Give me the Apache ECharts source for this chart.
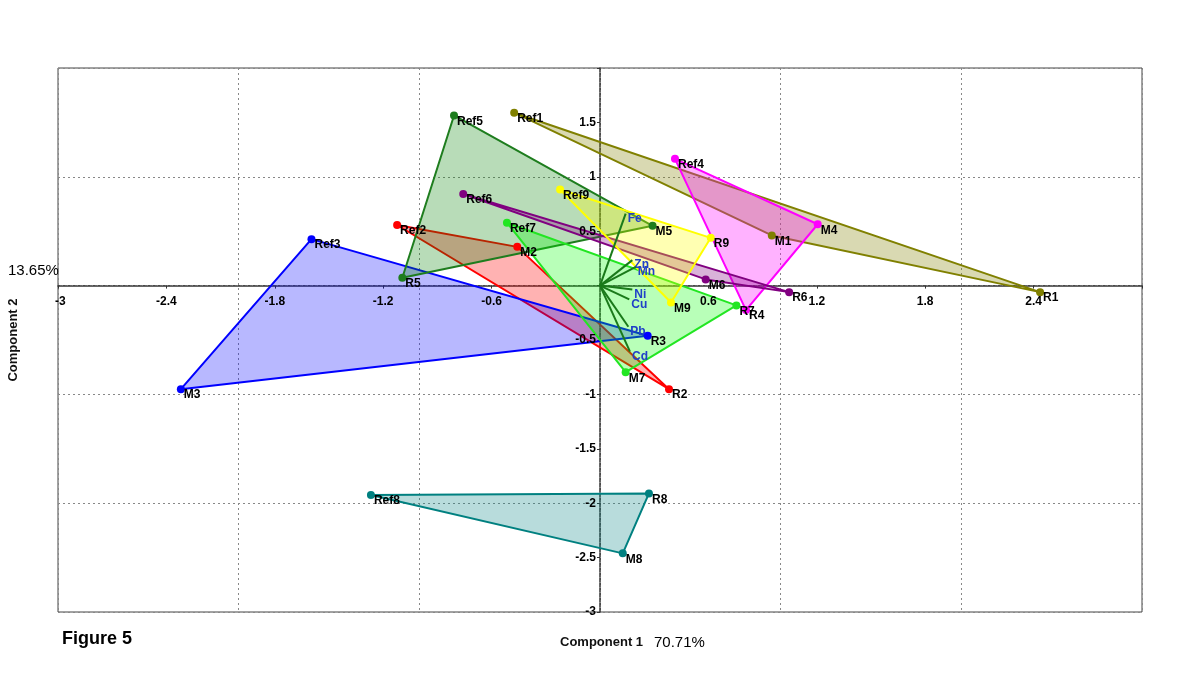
<!DOCTYPE html>
<html><head><meta charset="utf-8">
<script src="https://cdn.jsdelivr.net/npm/echarts@6/dist/echarts.min.js"></script>
<style>html,body{margin:0;padding:0;background:#fff}#c{width:1200px;height:680px}</style>
</head><body><div id="c"></div>
<script>
// ---- data ----
const sampleLabels = ['Ref1','M1','R1','Ref2','M2','R2','Ref3','M3','R3','Ref4','M4','R4','Ref5','M5','R5','Ref6','M6','R6','Ref7','M7','R7','Ref8','M8','R8','Ref9','M9','R9'];
const comp1 = [-0.475,0.951,2.436, -1.123,-0.458,0.382, -1.597,-2.320,0.264, 0.415,1.205,0.808, -0.808,0.291,-1.094, -0.757,0.585,1.047, -0.515,0.142,0.755, -1.268,0.126,0.271, -0.221,0.393,0.613];
const comp2 = [1.589,0.461,-0.060, 0.557,0.356,-0.952, 0.427,-0.952,-0.461, 1.165,0.564,-0.225, 1.564,0.550,0.072, 0.842,0.057,-0.060, 0.578,-0.796,-0.182, -1.925,-2.461,-1.910, 0.883,-0.156,0.439];
const groupColors = ['#808000','#ff0000','#0000ff','#ff00ff','#1e7d1e','#800080','#22e622','#008080','#ffff00'];
const groupFills = ['rgba(128,128,0,0.3)','rgba(255,0,0,0.3)','rgba(0,0,255,0.28)','rgba(255,0,255,0.3)','rgba(0,128,0,0.28)','rgba(128,0,128,0.3)','rgba(0,255,0,0.28)','rgba(0,128,128,0.28)','rgba(255,255,0,0.3)'];
const loadingLabels = ['Fe','Zn','Mn','Ni','Cu','Pb','Cd'];
const loadingX = [0.142,0.179,0.198,0.179,0.162,0.157,0.166];
const loadingY = [0.662,0.234,0.172,-0.035,-0.127,-0.378,-0.607];
const xTickLabels = ['-3','-2.4','-1.8','-1.2','-0.6','0.6','1.2','1.8','2.4'];
const yTickLabels = ['1.5','1','0.5','-0.5','-1','-1.5','-2','-2.5','-3'];
const xMin = -3, xMax = 3, xTick = 0.6;
const yMin = -3, yMax = 2, yTick = 0.5;
const gridStep = 1;
const xLabelText = '70.71%', yLabelText = '13.65%';

// ---- build ----
const polyData = [];
for (let g = 0; g < 9; g++) {
  const i = g * 3;
  polyData.push([comp1[i], comp2[i], comp1[i+1], comp2[i+1], comp1[i+2], comp2[i+2], g]);
}
const pointData = sampleLabels.map((n, i) => ({
  name: n, value: [comp1[i], comp2[i]],
  itemStyle: { color: groupColors[Math.floor(i / 3)], opacity: 1 }
}));
const loadData = loadingLabels.map((n, i) => [0, 0, loadingX[i], loadingY[i], i]);
const tickData = xTickLabels.map(t => [parseFloat(t), 0, 0]).concat(yTickLabels.map(t => [0, parseFloat(t), 1]));
const FONT = '"Liberation Sans", Arial, sans-serif';

const chart = echarts.init(document.getElementById('c'));
chart.setOption({
  animation: false,
  backgroundColor: '#fff',
  grid: { left: 58, right: 58, top: 68, bottom: 68, show: true, borderColor: '#444', borderWidth: 1, backgroundColor: 'transparent' },
  xAxis: [
    { type: 'value', min: xMin, max: xMax, interval: xTick,
      axisLine: { onZero: true, lineStyle: { color: '#333', width: 1.5, type: [4, 1] } },
      axisTick: { show: true, length: 3, lineStyle: { color: '#333' } },
      axisLabel: { show: false },
      splitLine: { show: false } },
    { type: 'value', min: xMin, max: xMax, interval: gridStep, position: 'top',
      axisLine: { show: false }, axisTick: { show: false }, axisLabel: { show: false },
      splitLine: { show: true, lineStyle: { color: '#888', type: [2, 3], width: 1 } } }
  ],
  yAxis: [
    { type: 'value', min: yMin, max: yMax, interval: yTick,
      axisLine: { onZero: true, lineStyle: { color: '#333', width: 1.5, type: [4, 1] } },
      axisTick: { show: true, length: 3, lineStyle: { color: '#333' } },
      axisLabel: { show: false },
      splitLine: { show: false } },
    { type: 'value', min: yMin, max: yMax, interval: gridStep, position: 'right',
      axisLine: { show: false }, axisTick: { show: false }, axisLabel: { show: false },
      splitLine: { show: true, lineStyle: { color: '#888', type: [2, 3], width: 1 } } }
  ],
  series: [
    { type: 'custom', xAxisIndex: 0, yAxisIndex: 0, z: 2,
      data: polyData,
      encode: { x: [0, 2, 4], y: [1, 3, 5] },
      renderItem: (params, api) => {
        const g = api.value(6);
        const pts = [api.coord([api.value(0), api.value(1)]), api.coord([api.value(2), api.value(3)]), api.coord([api.value(4), api.value(5)])];
        return { type: 'polygon', shape: { points: pts },
          style: { fill: groupFills[g], stroke: groupColors[g], lineWidth: 2, lineJoin: 'round' } };
      } },
    { type: 'custom', xAxisIndex: 0, yAxisIndex: 0, z: 3,
      data: loadData,
      encode: { x: [0, 2], y: [1, 3] },
      renderItem: (params, api) => {
        const i = api.value(4);
        const p0 = api.coord([api.value(0), api.value(1)]);
        const p1 = api.coord([api.value(2), api.value(3)]);
        return { type: 'group', children: [
          { type: 'line', shape: { x1: p0[0], y1: p0[1], x2: p1[0], y2: p1[1] }, style: { stroke: '#1a7a1a', lineWidth: 2 } },
          { type: 'text', x: p1[0] + 2, y: p1[1] - 1, style: { text: loadingLabels[i], fill: '#2040c8', font: 'bold 12px ' + FONT, align: 'left', verticalAlign: 'top' } }
        ] };
      } },
    { type: 'custom', xAxisIndex: 0, yAxisIndex: 0, z: 5, silent: true,
      data: tickData,
      encode: { x: 0, y: 1 },
      renderItem: (params, api) => {
        const isY = api.value(2) === 1;
        const v = isY ? api.value(1) : api.value(0);
        const p = api.coord([api.value(0), api.value(1)]);
        const txt = String(v);
        if (isY) {
          return { type: 'text', x: p[0] - 4, y: p[1], style: { text: txt, fill: '#000', font: 'bold 12px ' + FONT, align: 'right', verticalAlign: 'middle' } };
        }
        const left = Math.abs(v - xMin) < 1e-9;
        return { type: 'text', x: left ? p[0] - 3 : p[0], y: p[1] + 10, style: { text: txt, fill: '#000', font: 'bold 12px ' + FONT, align: left ? 'left' : 'center', verticalAlign: 'top' } };
      } },
    { type: 'scatter', xAxisIndex: 0, yAxisIndex: 0, z: 4,
      symbol: 'circle', symbolSize: 8,
      itemStyle: { opacity: 1 },
      data: pointData,
      label: { show: true, formatter: p => p.name, position: [7, 4], align: 'left', verticalAlign: 'top', opacity: 1,
        fontFamily: FONT, fontWeight: 'bold', fontSize: 12, color: '#000', textBorderWidth: 0 } }
  ],
  graphic: [
    { type: 'text', left: 8, top: 263, style: { text: yLabelText, font: '15px ' + FONT, fill: '#000' } },
    { type: 'text', x: 13, y: 340, rotation: Math.PI / 2, style: { text: 'Component 2', font: 'bold 13px ' + FONT, fill: '#111', align: 'center', verticalAlign: 'middle' } },
    { type: 'text', left: 560, top: 636, style: { text: 'Component 1', font: 'bold 13px ' + FONT, fill: '#111' } },
    { type: 'text', left: 654, top: 635, style: { text: xLabelText, font: '15px ' + FONT, fill: '#000' } },
    { type: 'text', left: 62, top: 630, style: { text: 'Figure 5', font: 'bold 18px ' + FONT, fill: '#000' } }
  ]
});
</script></body></html>
